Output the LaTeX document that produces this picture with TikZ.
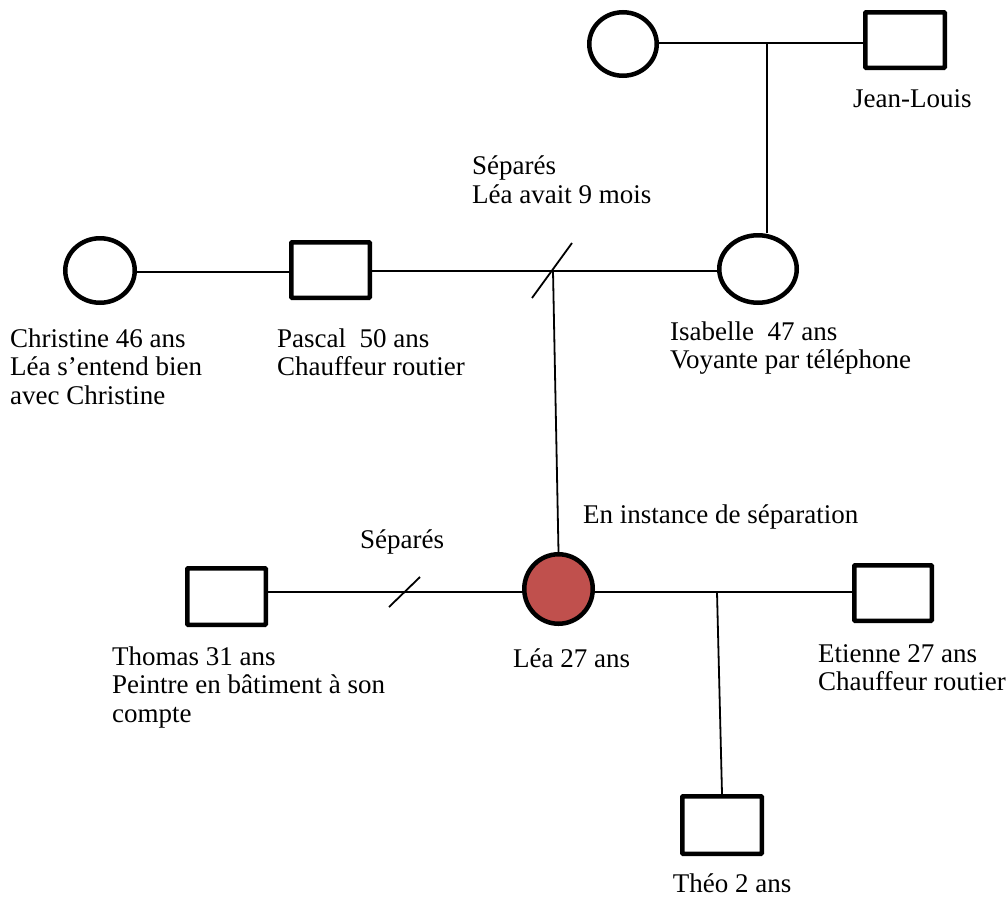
\documentclass[tikz,border=0pt]{standalone}
\usepackage{fontspec}
\setmainfont{Liberation Serif}
\usetikzlibrary{shapes.geometric}
\definecolor{leared}{HTML}{C0504D}
\begin{document}
\begin{tikzpicture}[x=1pt,y=-1pt,
  person/.style={draw=black,line width=4.5pt,inner sep=0pt},
  female/.style={person,ellipse},
  male/.style={person,rectangle,rounded corners=0.8pt},
  link/.style={line width=1.8pt},
  lbl/.style={anchor=base west,inner sep=0pt,align=left,font=\fontsize{27}{28.5}\selectfont}]
\useasboundingbox (0,0) rectangle (1008,897);
\fill[white] (0,0) rectangle (1008,897);
% people
\node[female,minimum width=67.5pt,minimum height=63.5pt] (gm) at (623,44) {};
\node[male,minimum width=79.5pt,minimum height=55.5pt] (jl) at (905,40) {};
\node[female,minimum width=69.5pt,minimum height=64.5pt] (chr) at (100,270.5) {};
\node[male,minimum width=78.5pt,minimum height=55.5pt] (pas) at (330.5,270) {};
\node[female,minimum width=77.5pt,minimum height=67.5pt] (isa) at (758,269) {};
\node[female,fill=leared,minimum width=68.5pt,minimum height=69.5pt] (lea) at (558.5,589) {};
\node[male,minimum width=78.5pt,minimum height=56.5pt] (tho) at (226.5,596.5) {};
\node[male,minimum width=77.5pt,minimum height=55.5pt] (eti) at (893,593) {};
\node[male,minimum width=79.5pt,minimum height=57.5pt] (theo) at (722,825) {};
% junction points
\coordinate (jtop) at (767,43);
\coordinate (jmid) at (553,271);
\coordinate (jlow) at (717,592);
\coordinate (s1a) at (532,298);
\coordinate (s1b) at (572,243);
\coordinate (s2a) at (389,607);
\coordinate (s2b) at (420,577);
% connectors
\draw[link] (gm.east |- jtop) -- (jl.west |- jtop);
\draw[link] (jtop) -- (jtop |- isa.north);
\draw[link] (chr.east |- 0,272) -- (pas.west |- 0,272);
\draw[link] (pas.east |- jmid) -- (isa.west |- jmid);
\draw[link] (s1a) -- (s1b);
\draw[link] (jmid) -- (lea.north);
\draw[link] (tho.east |- jlow) -- (lea.west |- jlow);
\draw[link] (s2a) -- (s2b);
\draw[link] (lea.east |- jlow) -- (eti.west |- jlow);
\draw[link] (jlow) -- (theo.north);
% labels (base anchor = baseline of the last line)
\node[lbl] (tjl) at (853,107) {Jean-Louis};
\node[lbl] (tsep1) at (472,203) {Séparés\\Léa avait 9 mois};
\node[lbl] (tchr) at (10,404) {Christine 46 ans\\Léa s’entend bien\\avec Christine};
\node[lbl] (tpas) at (277,375.5) {Pascal\ \ 50 ans\\Chauffeur routier};
\node[lbl] (tisa) at (670,368.5) {Isabelle\ \ 47 ans\\Voyante par téléphone};
\node[lbl] (tinst) at (583,523) {En instance de séparation};
\node[lbl] (tsep2) at (360,548) {Séparés};
\node[lbl] (ttho) at (112,722) {Thomas 31 ans\\Peintre en bâtiment à son\\compte};
\node[lbl] (tlea) at (513,667) {Léa 27 ans};
\node[lbl] (teti) at (818,690.5) {Etienne 27 ans\\Chauffeur routier};
\node[lbl,anchor=base] (ttheo) at (732,892) {Théo 2 ans};
\end{tikzpicture}
\end{document}
